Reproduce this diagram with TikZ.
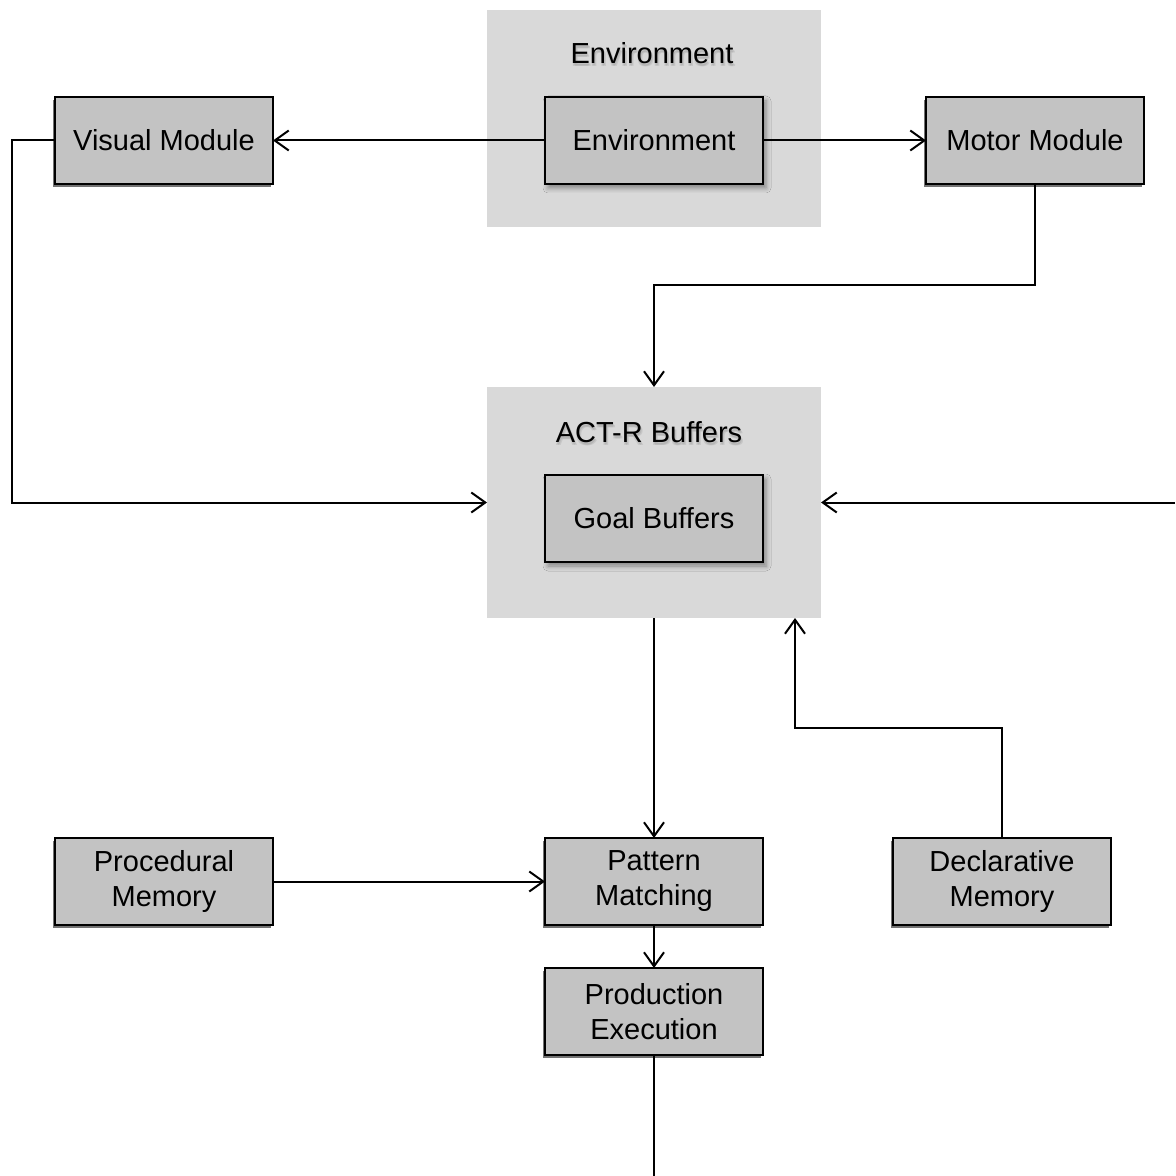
\documentclass[tikz,border=0pt]{standalone}
\usepackage{fontspec}
\setmainfont{Liberation Sans}
\usetikzlibrary{arrows.meta,shadows.blur}

\begin{document}
\begin{tikzpicture}[x=0.5pt,y=-0.5pt,
  font=\fontsize{14.5}{17.5}\selectfont,
  group/.style={fill=groupgray,draw=none,minimum width=167pt,anchor=north west,
    outer sep=0pt},
  module/.style={draw=black,line width=1pt,fill=boxgray,minimum width=109pt,
    minimum height=43.5pt,align=center,anchor=north west,inner sep=0pt,outer sep=0pt,
    general shadow={fill=black!55,shadow xshift=-1pt,shadow yshift=-1.5pt}},
  inner/.style={draw=black,line width=1pt,fill=boxgray,minimum width=109pt,
    minimum height=43.5pt,align=center,anchor=north west,inner sep=0pt,outer sep=0pt,
    blur shadow={shadow xshift=1.5pt,shadow yshift=-2pt,shadow blur radius=2.5pt,
      shadow opacity=40}},
  title/.style={inner sep=0pt},
  link/.style={line width=1pt,-{Straight Barb[length=7pt,width=10pt,line width=1pt]}},
  plain/.style={line width=1pt}]

\definecolor{groupgray}{HTML}{D9D9D9}
\definecolor{boxgray}{HTML}{C3C3C3}

\useasboundingbox (0,0) rectangle (1175,1176);
\fill[white] (0,0) rectangle (1175,1176);

% grouping panels
\node[group,minimum height=108.5pt] (envgroup) at (487,10) {};
\node[group,minimum height=115.5pt] (actr) at (487,387) {};

% panel titles with a soft halo
\foreach \dx/\dy in {1/2,2/3,0/3}
  \node[title,text=black!35,opacity=0.35] at (652+\dx,53+\dy) {Environment};
\node[title] (envtitle) at (652,53) {Environment};
\foreach \dx/\dy in {1/2,2/3,0/3}
  \node[title,text=black!35,opacity=0.35] at (649+\dx,432+\dy) {ACT-R Buffers};
\node[title] (actrtitle) at (649,432) {ACT-R Buffers};

% boxes
\node[inner] (env) at (545,97) {Environment};
\node[inner] (goal) at (545,475) {Goal Buffers};
\node[module] (visual) at (55,97) {Visual Module};
\node[module] (motor) at (926,97) {Motor Module};
\node[module] (proc) at (55,838) {Procedural\\Memory};
\node[module] (pattern) at (545,838) {Pattern\\Matching};
\node[module] (decl) at (893,838) {Declarative\\Memory};
\node[module] (prod) at (545,968) {Production\\Execution};

% free ends at the picture border and the second entry point of the buffers
\coordinate (rightin) at (actr.east -| 1175,0);
\coordinate (bottomout) at (prod.south |- 0,1176);
\coordinate (declin) at ([xshift=-13pt]actr.south east);

% connectors
\draw[link] (env.west) -- (visual.east);
\draw[link] (env.east) -- (motor.west);
\draw[link] (motor.south) -- ++(0,101) -| (actr.north);
\draw[link] (visual.west) -- ++(-43,0) |- (actr.west);
\draw[link] (rightin) -- (actr.east);
\draw[link] (actr.south) -- (pattern.north);
\draw[link] (decl.north) -- ++(0,-110) -| (declin);
\draw[link] (proc.east) -- (pattern.west);
\draw[link] (pattern.south) -- (prod.north);
\draw[plain] (prod.south) -- (bottomout);
\end{tikzpicture}
\end{document}
